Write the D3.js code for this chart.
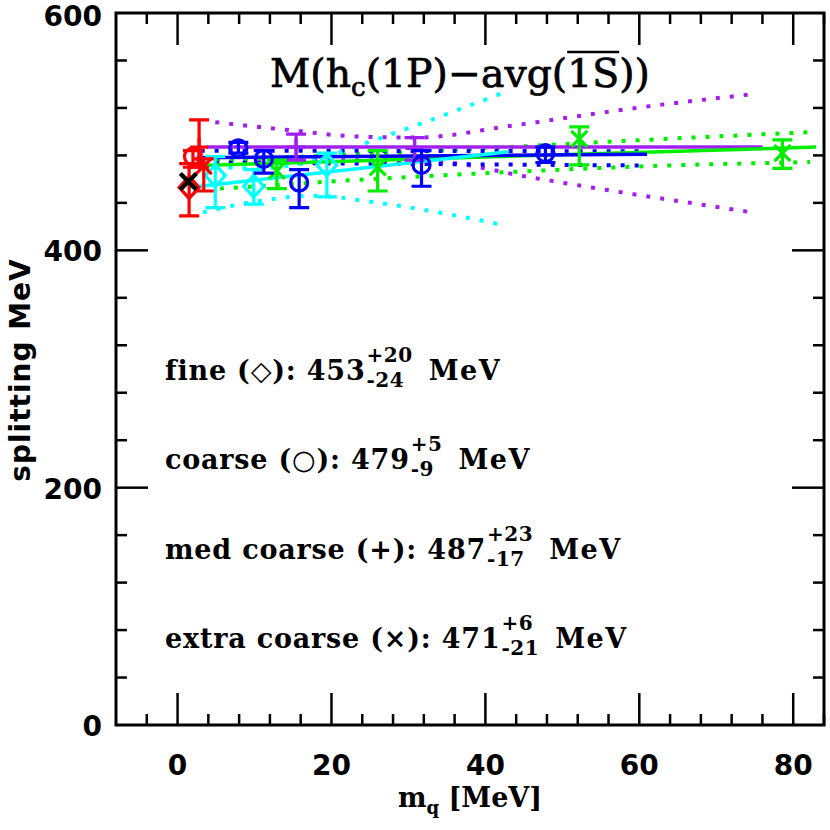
<!DOCTYPE html>
<html>
<head>
<meta charset="utf-8">
<script src="https://cdn.jsdelivr.net/npm/d3@7"></script>
<style>
body{margin:0;background:#fff}
svg{display:block}
</style>
</head>
<body>
<svg id="chart"></svg>
<script>
// axis ticks
var xMajor=[0,20,40,60,80];
var yMajor=[0,200,400,600];

// data points: m_q, value, error up, error down
var fineMq=[4.9,9.9,19.4], fineVal=[463,454,472], fineUp=[16,14,10], fineDown=[27,15,27];
var coarseMq=[7.9,11.2,15.8,31.7,47.8], coarseVal=[486,477,457,472,482], coarseUp=[5,7,11,12,5], coarseDown=[4,12,21,18,8];
var medMq=[15.4,30.8], medVal=[487,486], medUp=[11,9], medDown=[11,10];
var xcMq=[12.9,26,52.2,78.6], xcVal=[467,470,494,482], xcUp=[9,14,10,11], xcDown=[15,20,22,13];

// results at the physical point (red) and experiment (black)
var physSym=["diamond","circle","plus","cross"];
var physMq=[1.5,2.0,2.8,3.4], physVal=[453,479,487,471], physUp=[20,5,23,6], physDown=[24,9,17,21];
var expMq=[1.4], expVal=[458];

// fit lines
var fineFit=[[1.5,453],[43,483]];
var coarseFit=[[2.5,478],[61,481]];
var medFit=[[3.8,487],[76,487]];
var xcFit=[[3,471.5],[83,487]];

// error bands (dotted)
var fineHi=[[3,472],[10,469],[18,476],[23.4,488],[25.2,492],[42.8,534]];
var fineLo=[[3.3,432],[10,441],[18,446],[25,441],[33,433],[42.5,421]];
var coarseHi=[[3,484],[60.5,483.5]];
var coarseLo=[[3,474],[60.5,471.5]];
var medHi=[[4.9,508],[15,501],[23,496],[31,495],[43.4,505],[58.4,519],[75.2,532]];
var medLo=[[4.9,474],[15,476],[25,476],[34.3,474.4],[45.6,461.8],[56.6,450],[67.9,438.7],[75.2,431.4]];
var xcHi=[[5,476],[20,480],[40,486],[60.5,493],[82.2,499.6]];
var xcLo=[[5.5,452],[11.4,454.5],[22.4,459],[40,465],[61.4,471],[82.2,474.4]];

// legend
var legNames=["fine (\u25C7): ","coarse (\u25CB): ","med coarse (+): ","extra coarse (\u00D7): "];
var legVal=[453,479,487,471], legUp=[20,5,23,6], legDown=[24,9,17,21];

var width=830,height=830;
var pLeft=116,pRight=824,pTop=13,pBottom=725;
var cyan="#00ffff",blue="#0000ff",purple="#a020f0",green="#00ee00",red="#ff0000";

var svg=d3.select("#chart").attr("width",width).attr("height",height);

var x=d3.scaleLinear().domain([-8,84]).range([pLeft,pRight]);
var y=d3.scaleLinear().domain([0,600]).range([pBottom,pTop]);

function pts(mq,val,up,down) {
	return mq.map(function(m,i) {return {m:m,v:val[i],u:up?up[i]:0,d:down?down[i]:0}});
}

var line=d3.line().x(function(d) {return x(d[0])}).y(function(d) {return y(d[1])});
var curve=d3.line().x(function(d) {return x(d[0])}).y(function(d) {return y(d[1])}).curve(d3.curveMonotoneX);

function band(data,color) {
	svg.append("path").attr("d",curve(data)).attr("fill","none")
		.attr("stroke",color).attr("stroke-width",4).attr("stroke-dasharray","4,10");
}
function fit(data,color) {
	svg.append("path").attr("d",line(data)).attr("fill","none")
		.attr("stroke",color).attr("stroke-width",3.5);
}

function marker(g,sym,color,cx,cy) {
	var s=10;
	if (sym=="diamond") {
		g.append("path").attr("d","M"+cx+","+(cy-s-1)+"L"+(cx+s)+","+cy+"L"+cx+","+(cy+s+1)+"L"+(cx-s)+","+cy+"Z")
			.attr("fill","none").attr("stroke",color).attr("stroke-width",3.2);
	} else if (sym=="circle") {
		g.append("circle").attr("cx",cx).attr("cy",cy).attr("r",8.5)
			.attr("fill","none").attr("stroke",color).attr("stroke-width",3.2);
	} else if (sym=="plus") {
		g.append("path").attr("d","M"+(cx-9)+","+cy+"H"+(cx+9)+"M"+cx+","+(cy-9)+"V"+(cy+9))
			.attr("stroke",color).attr("stroke-width",3.2);
	} else {
		s=8;
		g.append("path").attr("d","M"+(cx-s)+","+(cy-s)+"L"+(cx+s)+","+(cy+s)+"M"+(cx-s)+","+(cy+s)+"L"+(cx+s)+","+(cy-s))
			.attr("stroke",color).attr("stroke-width",3.2);
	}
}

function errPoints(data,sym,color) {
	var g=svg.append("g");
	data.forEach(function(d) {
		var cx=x(d.m),y1=y(d.v+d.u),y2=y(d.v-d.d);
		g.append("path").attr("d","M"+cx+","+y1+"V"+y2+"M"+(cx-10)+","+y1+"H"+(cx+10)+"M"+(cx-10)+","+y2+"H"+(cx+10))
			.attr("stroke",color).attr("stroke-width",3.2).attr("fill","none");
		marker(g,sym,color,cx,y(d.v));
	});
}

// bands
band(medHi,purple); band(medLo,purple);
band(xcHi,green); band(xcLo,green);
band(coarseHi,blue); band(coarseLo,blue);
band(fineHi,cyan); band(fineLo,cyan);

// fits
fit(medFit,purple);
fit(xcFit,green);
fit(coarseFit,blue);
fit(fineFit,cyan);

// points
errPoints(pts(medMq,medVal,medUp,medDown),"plus",purple);
errPoints(pts(xcMq,xcVal,xcUp,xcDown),"cross",green);
errPoints(pts(fineMq,fineVal,fineUp,fineDown),"diamond",cyan);
errPoints(pts(coarseMq,coarseVal,coarseUp,coarseDown),"circle",blue);

var phys=pts(physMq,physVal,physUp,physDown);
phys.forEach(function(d,i) {
	errPoints([d],physSym[i],red);
});

// experiment
var ge=svg.append("g");
pts(expMq,expVal).forEach(function(d) {
	var cx=x(d.m),cy=y(d.v),s=8;
	ge.append("path").attr("d","M"+(cx-s)+","+(cy-s)+"L"+(cx+s)+","+(cy+s)+"M"+(cx-s)+","+(cy+s)+"L"+(cx+s)+","+(cy-s))
		.attr("stroke","#000").attr("stroke-width",4.5);
});

// frame
svg.append("rect").attr("x",pLeft).attr("y",pTop).attr("width",pRight-pLeft).attr("height",pBottom-pTop)
	.attr("fill","none").attr("stroke","#000").attr("stroke-width",3);

var xMinor=d3.range(-4,85,4).filter(function(v) {return v%20!=0});
var yMinor=d3.range(40,600,40).filter(function(v) {return v%200!=0});
var ticks=svg.append("g").attr("stroke","#000").attr("stroke-width",2.5);
function xtick(v,len) {
	ticks.append("line").attr("x1",x(v)).attr("x2",x(v)).attr("y1",pBottom).attr("y2",pBottom-len);
	ticks.append("line").attr("x1",x(v)).attr("x2",x(v)).attr("y1",pTop).attr("y2",pTop+len);
}
function ytick(v,len) {
	ticks.append("line").attr("y1",y(v)).attr("y2",y(v)).attr("x1",pLeft).attr("x2",pLeft+len);
	ticks.append("line").attr("y1",y(v)).attr("y2",y(v)).attr("x1",pRight).attr("x2",pRight-len);
}
xMajor.forEach(function(v) {xtick(v,32)});
xMinor.forEach(function(v) {xtick(v,11)});
yMajor.filter(function(v) {return v>0 && v<600}).forEach(function(v) {ytick(v,32)});
yMinor.forEach(function(v) {ytick(v,11)});

var tickFont="'DejaVu Sans',sans-serif";
svg.selectAll(".xl").data(xMajor).enter().append("text")
	.attr("x",function(d) {return x(d)}).attr("y",775)
	.attr("text-anchor","middle").attr("font-family",tickFont).attr("font-weight","bold").attr("font-size",28)
	.text(function(d) {return d});
svg.selectAll(".yl").data(yMajor).enter().append("text")
	.attr("x",102).attr("y",function(d) {return Math.max(y(d)+11,26)})
	.attr("text-anchor","end").attr("font-family",tickFont).attr("font-weight","bold").attr("font-size",28)
	.text(function(d) {return d});

// axis titles
var xt=svg.append("text").attr("x",470).attr("y",807).attr("text-anchor","middle")
	.attr("font-family","'DejaVu Serif',serif").attr("font-weight","bold").attr("font-size",27);
xt.append("tspan").text("m");
xt.append("tspan").attr("font-size",18).attr("dy",7).text("q");
xt.append("tspan").attr("dy",-7).text(" [MeV]");

svg.append("text").attr("transform","translate(30,370) rotate(-90)").attr("text-anchor","middle")
	.attr("font-family",tickFont).attr("font-weight","bold").attr("font-size",28).attr("letter-spacing",1)
	.text("splitting MeV");

// title
var title=svg.append("text").attr("x",270).attr("y",87)
	.attr("font-family","'DejaVu Serif',serif").attr("font-size",36)
	.attr("stroke","#000").attr("stroke-width",0.7);
title.append("tspan").text("M(h");
title.append("tspan").attr("font-size",24).attr("dy",9).text("c");
title.append("tspan").attr("dy",-9).text("(1P)\u2212avg(1S))");
var tw=title.node().getComputedTextLength();
var sc=380/tw;
title.attr("font-size",36*sc);
title.selectAll("tspan").filter(function(d,i) {return i==1}).attr("font-size",24*sc);
var c1=title.node().getExtentOfChar(13), c2=title.node().getExtentOfChar(14);
svg.append("line").attr("x1",c1.x).attr("x2",c2.x+c2.width).attr("y1",52).attr("y2",52)
	.attr("stroke","#000").attr("stroke-width",2.5);

// legend
var legFont="'DejaVu Serif',serif";
legNames.forEach(function(name,i) {
	var by=380+i*89.3;
	var t=svg.append("text").attr("x",165).attr("y",by)
		.attr("font-family",legFont).attr("font-weight","bold").attr("font-size",27).attr("letter-spacing",0.8)
		.text(name+legVal[i]);
	var w=t.node().getComputedTextLength();
	var sx=165+w+1;
	var sup=svg.append("text").attr("x",sx).attr("y",by-18)
		.attr("font-family",legFont).attr("font-weight","bold").attr("font-size",20).attr("letter-spacing",0.5).text("+"+legUp[i]);
	var sub=svg.append("text").attr("x",sx).attr("y",by+7)
		.attr("font-family",legFont).attr("font-weight","bold").attr("font-size",20).attr("letter-spacing",0.5).text("-"+legDown[i]);
	var sw=Math.max(sup.node().getComputedTextLength(),sub.node().getComputedTextLength());
	svg.append("text").attr("x",sx+sw+16).attr("y",by)
		.attr("font-family",legFont).attr("font-weight","bold").attr("font-size",27).attr("letter-spacing",1.5).text("MeV");
});
</script>
</body>
</html>
